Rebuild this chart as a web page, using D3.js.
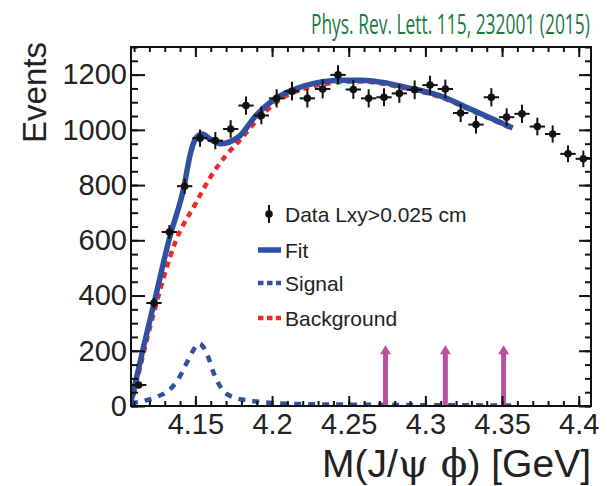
<!DOCTYPE html>
<html><head><meta charset="utf-8">
<script src="https://cdn.jsdelivr.net/npm/d3@7"></script>
<style>body{margin:0;background:#fff;} svg{display:block;}</style>
</head><body>
<svg id="chart" width="607" height="486"></svg>
<script>
// ---------------- data ----------------
const massBins = [4.113, 4.123, 4.133, 4.143, 4.153, 4.163, 4.173, 4.183, 4.193, 4.203,
                  4.213, 4.223, 4.233, 4.243, 4.253, 4.263, 4.273, 4.283, 4.293, 4.303,
                  4.313, 4.323, 4.333, 4.343, 4.353, 4.363, 4.373, 4.383, 4.393, 4.403];
const events = [76, 373, 630, 796, 970, 961, 1003, 1088, 1052, 1114,
                1140, 1114, 1148, 1199, 1146, 1114, 1118, 1132, 1145, 1162,
                1148, 1061, 1019, 1118, 1046, 1058, 1012, 985, 913, 895];
const eventErrors = [9, 19, 25, 28, 31, 31, 32, 33, 32, 33,
                     34, 33, 34, 35, 34, 33, 33, 34, 34, 34,
                     34, 33, 32, 33, 32, 33, 32, 31, 30, 30];
const binHalfWidth = 0.005;

const fitMass = [4.108, 4.116, 4.124, 4.1327, 4.1424, 4.1468, 4.1501, 4.1544, 4.160, 4.1664,
                 4.1783, 4.1892, 4.2027, 4.215, 4.2288, 4.244, 4.258, 4.2722, 4.2874, 4.3091,
                 4.3308, 4.3569];
const fitValues = [15, 210, 395, 600, 790, 915, 968, 985, 965, 950,
                   975, 1050, 1115, 1148, 1170, 1180, 1180, 1172, 1154, 1124,
                   1072, 1007];

const bkgMass = [4.108, 4.1222, 4.137, 4.150, 4.1598, 4.1696, 4.1783, 4.1881, 4.2027, 4.215,
                 4.2288, 4.244, 4.258, 4.2722, 4.2874, 4.3091, 4.3308, 4.3569];
const bkgValues = [0, 323, 595, 732, 829, 905, 958, 1022, 1100, 1138,
                   1160, 1173, 1175, 1167, 1150, 1120, 1068, 1004];

const sigMass = [4.108, 4.1175, 4.126, 4.1316, 4.138, 4.1447, 4.148, 4.1525, 4.1583, 4.162,
                 4.1675, 4.175, 4.186, 4.198, 4.2175, 4.25, 4.30, 4.3569];
const sigValues = [10, 20, 36, 52, 90, 160, 196, 226, 178, 118,
                   60, 31, 19, 12, 7, 5, 3, 2];

const arrowMass = [4.274, 4.313, 4.351];
const arrowTop = 220;

const xTicks = [4.15, 4.2, 4.25, 4.3, 4.35, 4.4];
const xTickLabels = ["4.15", "4.2", "4.25", "4.3", "4.35", "4.4"];
const yTicks = [0, 200, 400, 600, 800, 1000, 1200];
const yTickLabels = ["0", "200", "400", "600", "800", "1000", "1200"];
const legendLabels = ["Data Lxy>0.025 cm", "Fit", "Signal", "Background"];
const titleText = "Phys. Rev. Lett. 115, 232001 (2015)";
const yTitle = "Events";

// ---------------- drawing ----------------
const svg = d3.select("#chart");
const font = "'Liberation Sans', Arial, Helvetica, sans-serif";
const blue = "#3050a2", red = "#ee2a27", magenta = "#b8519f";

svg.append("rect").attr("width", 607).attr("height", 486).attr("fill", "#fff");

const x = d3.scaleLinear().domain([4.108, 4.408]).range([131, 591]);
const y = d3.scaleLinear().domain([0, 1300]).range([406, 47]);

svg.append("defs").append("clipPath").attr("id", "plotclip")
  .append("rect").attr("x", x.range()[0]).attr("y", y.range()[1])
  .attr("width", x.range()[1] - x.range()[0]).attr("height", y.range()[0] - y.range()[1]);

const plot = svg.append("g").attr("clip-path", "url(#plotclip)");

const lineGen = d3.line().x(d => x(d[0])).y(d => y(d[1])).curve(d3.curveMonotoneX);

plot.append("path").datum(d3.zip(bkgMass, bkgValues))
  .attr("d", lineGen).attr("fill", "none").attr("stroke", red)
  .attr("stroke-width", 4.5).attr("stroke-dasharray", "6,5");

plot.append("path").datum(d3.zip(sigMass, sigValues))
  .attr("d", lineGen).attr("fill", "none").attr("stroke", blue)
  .attr("stroke-width", 4.5).attr("stroke-dasharray", "7,7");

plot.append("path").datum(d3.zip(fitMass, fitValues))
  .attr("d", lineGen).attr("fill", "none").attr("stroke", blue)
  .attr("stroke-width", 5.5).attr("stroke-linejoin", "round");

// arrows
const arrows = plot.selectAll("g.arrow").data(arrowMass).enter().append("g").attr("class", "arrow");
arrows.append("rect")
  .attr("x", d => x(d) - 2.5).attr("width", 5)
  .attr("y", y(arrowTop) + 7).attr("height", y(0) - y(arrowTop) - 7)
  .attr("fill", magenta);
arrows.append("path")
  .attr("d", d => `M${x(d) - 5.5},${y(arrowTop) + 9} L${x(d)},${y(arrowTop)} L${x(d) + 5.5},${y(arrowTop) + 9} Z`)
  .attr("fill", magenta);

// data points
const pts = d3.zip(massBins, events, eventErrors);
const dg = svg.append("g");
dg.selectAll("line.ex").data(pts).enter().append("line")
  .attr("x1", d => x(d[0] - binHalfWidth)).attr("x2", d => x(d[0] + binHalfWidth))
  .attr("y1", d => y(d[1])).attr("y2", d => y(d[1]))
  .attr("stroke", "#111").attr("stroke-width", 2);
dg.selectAll("line.ey").data(pts).enter().append("line")
  .attr("x1", d => x(d[0])).attr("x2", d => x(d[0]))
  .attr("y1", d => y(d[1] - d[2])).attr("y2", d => y(d[1] + d[2]))
  .attr("stroke", "#111").attr("stroke-width", 2);
dg.selectAll("circle").data(pts).enter().append("circle")
  .attr("cx", d => x(d[0])).attr("cy", d => y(d[1])).attr("r", 3.8).attr("fill", "#111");

// axes
function styleAxis(g, fs) {
  g.select(".domain").remove();
  g.selectAll(".tick line").attr("stroke", "#111").attr("stroke-width", 2);
  g.selectAll(".tick text").attr("font-family", font).attr("font-size", fs).attr("fill", "#222");
}
const yb = y.range()[0], yt = y.range()[1], xl = x.range()[0], xr = x.range()[1];
const xMinor = d3.range(4.11, 4.4051, 0.01);
const yMinor = d3.range(0, 1301, 50);

svg.append("g").attr("transform", `translate(0,${yb})`)
  .call(d3.axisBottom(x).tickValues(xMinor).tickSizeInner(-5).tickSizeOuter(0).tickFormat(""))
  .call(g => styleAxis(g, 0));
svg.append("g").attr("transform", `translate(0,${yb})`)
  .call(d3.axisBottom(x).tickValues(xTicks).tickFormat((d, i) => xTickLabels[i])
    .tickSizeInner(-10).tickSizeOuter(0).tickPadding(7))
  .call(g => styleAxis(g, 29));
svg.append("g").attr("transform", `translate(0,${yt})`)
  .call(d3.axisTop(x).tickValues(xMinor).tickSizeInner(-5).tickSizeOuter(0).tickFormat(""))
  .call(g => styleAxis(g, 0));
svg.append("g").attr("transform", `translate(0,${yt})`)
  .call(d3.axisTop(x).tickValues(xTicks).tickSizeInner(-10).tickSizeOuter(0).tickFormat(""))
  .call(g => styleAxis(g, 0));

svg.append("g").attr("transform", `translate(${xl},0)`)
  .call(d3.axisLeft(y).tickValues(yMinor).tickSizeInner(-7).tickSizeOuter(0).tickFormat(""))
  .call(g => styleAxis(g, 0));
svg.append("g").attr("transform", `translate(${xl},0)`)
  .call(d3.axisLeft(y).tickValues(yTicks).tickFormat((d, i) => yTickLabels[i])
    .tickSizeInner(-14).tickSizeOuter(0).tickPadding(4))
  .call(g => styleAxis(g, 29));
svg.append("g").attr("transform", `translate(${xr},0)`)
  .call(d3.axisRight(y).tickValues(yMinor).tickSizeInner(-6).tickSizeOuter(0).tickFormat(""))
  .call(g => styleAxis(g, 0));
svg.append("g").attr("transform", `translate(${xr},0)`)
  .call(d3.axisRight(y).tickValues(yTicks).tickSizeInner(-12).tickSizeOuter(0).tickFormat(""))
  .call(g => styleAxis(g, 0));

svg.append("rect").attr("x", xl).attr("y", yt).attr("width", xr - xl).attr("height", yb - yt)
  .attr("fill", "none").attr("stroke", "#111").attr("stroke-width", 2);

// axis titles
const xt = svg.append("text").attr("x", 591).attr("y", 477).attr("text-anchor", "end")
  .attr("font-family", font).attr("font-size", 39).attr("fill", "#222");
xt.append("tspan").text("M(J/");
xt.append("tspan").attr("font-family", "'DejaVu Serif', 'Liberation Serif', serif").text("ψ ϕ");
xt.append("tspan").text(") [GeV]");

svg.append("text").attr("transform", "translate(46,42) rotate(-90)")
  .attr("text-anchor", "end").attr("font-family", font).attr("font-size", 33)
  .attr("fill", "#222").text(yTitle);

// title (condensed horizontally to match the reference width)
const titleG = svg.append("g");
const tt = titleG.append("text").attr("x", 0).attr("y", 0)
  .attr("font-family", "'Open Sans', 'Noto Sans', sans-serif").attr("font-size", 28)
  .attr("fill", "#1a7a42").text(titleText);
const natW = tt.node().getComputedTextLength();
titleG.attr("transform", `translate(311,34) scale(${279 / natW},1)`);

// legend
const lg = svg.append("g");
const legendY = [214, 250, 283, 318];
lg.append("line").attr("x1", 269).attr("x2", 269).attr("y1", legendY[0] - 9).attr("y2", legendY[0] + 9)
  .attr("stroke", "#111").attr("stroke-width", 2);
lg.append("circle").attr("cx", 269).attr("cy", legendY[0]).attr("r", 3.8).attr("fill", "#111");
lg.append("line").attr("x1", 258).attr("x2", 281).attr("y1", legendY[1]).attr("y2", legendY[1])
  .attr("stroke", blue).attr("stroke-width", 5.5);
lg.append("line").attr("x1", 258).attr("x2", 281).attr("y1", legendY[2]).attr("y2", legendY[2])
  .attr("stroke", blue).attr("stroke-width", 4.5).attr("stroke-dasharray", "5.5,3.5");
lg.append("line").attr("x1", 258).attr("x2", 281).attr("y1", legendY[3]).attr("y2", legendY[3])
  .attr("stroke", red).attr("stroke-width", 4.5).attr("stroke-dasharray", "5.5,3.5");
lg.selectAll("text").data(legendLabels).enter().append("text")
  .attr("x", 285).attr("y", (d, i) => legendY[i]).attr("dy", "0.36em")
  .attr("font-family", font).attr("font-size", 21).attr("fill", "#222").text(d => d);
</script>
</body></html>
